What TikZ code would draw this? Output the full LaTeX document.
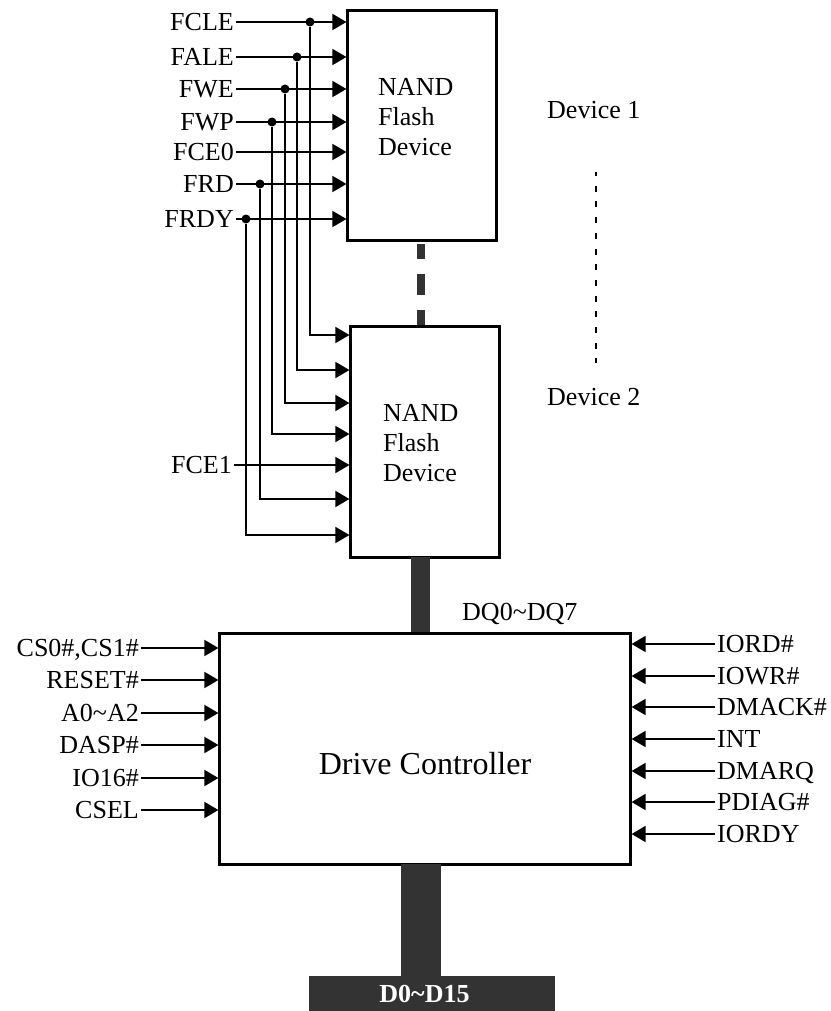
\documentclass[tikz,border=0pt]{standalone}
\usepackage{fontspec}
\setmainfont{Liberation Serif}
\usetikzlibrary{arrows.meta}
\definecolor{barcolor}{HTML}{333333}
\tikzset{
  box/.style={draw, line width=2.2pt, inner sep=0pt},
  sig/.style={font=\fontsize{26}{26}\selectfont, text height=17pt, text depth=0pt, inner sep=2pt},
  lbl/.style={font=\fontsize{26}{30}\selectfont, inner sep=0pt, align=left},
  wire/.style={line width=1.8pt, -{Triangle[length=14pt,width=16pt]}},
  tap/.style={circle, fill, inner sep=0pt, minimum size=9pt},
  bus/.style={draw=barcolor, line width=#1}
}
\begin{document}
\begin{tikzpicture}[x=1pt,y=-1pt]
\useasboundingbox (0,0) rectangle (830,1011);
% blocks
\node[box, minimum width=149pt, minimum height=230pt] (devone) at (422,125.5) {};
\node[box, minimum width=149pt, minimum height=231pt] (devtwo) at (425,442) {};
\node[box, minimum width=411pt, minimum height=231pt] (ctrl) at (425,749) {};
\node[lbl, anchor=west] (nandone) at (378,117) {NAND\\Flash\\Device};
\node[lbl, anchor=west] (nandtwo) at (383,443) {NAND\\Flash\\Device};
\node[font=\fontsize{32}{32}\selectfont] (ctrlname) at (425,764) {Drive Controller};
\node[sig, anchor=west] (nameone) at (545,110) {Device 1};
\node[sig, anchor=west] (nametwo) at (545,397) {Device 2};
\coordinate (dottop) at (596,172);
\coordinate (dotbot) at (596,363);
\draw[line width=2pt, dash pattern=on 6pt off 9.7pt, dash phase=2pt] (dottop) -- (dotbot);
% upper device inputs
\node[sig, anchor=east] (fcle) at (236,22) {FCLE};
\node[sig, anchor=east] (fale) at (236,57) {FALE};
\node[sig, anchor=east] (fwe) at (236,89) {FWE};
\node[sig, anchor=east] (fwp) at (236,122) {FWP};
\node[sig, anchor=east] (fcez) at (236,152) {FCE0};
\node[sig, anchor=east] (frd) at (236,184) {FRD};
\node[sig, anchor=east] (frdy) at (236,219) {FRDY};
\node[sig, anchor=east] (fceo) at (234,465) {FCE1};
\draw[wire] (fcle.east) -- (fcle.east -| devone.west);
\draw[wire] (fale.east) -- (fale.east -| devone.west);
\draw[wire] (fwe.east) -- (fwe.east -| devone.west);
\draw[wire] (fwp.east) -- (fwp.east -| devone.west);
\draw[wire] (fcez.east) -- (fcez.east -| devone.west);
\draw[wire] (frd.east) -- (frd.east -| devone.west);
\draw[wire] (frdy.east) -- (frdy.east -| devone.west);
\draw[wire] (fceo.east) -- (fceo.east -| devtwo.west);
% shared lines to the lower device
\node[tap] (tapcle) at (310,22) {};
\node[tap] (tapale) at (297,57) {};
\node[tap] (tapwe) at (285,89) {};
\node[tap] (tapwp) at (272,122) {};
\node[tap] (taprd) at (260,184) {};
\node[tap] (taprdy) at (246,219) {};
\coordinate (incle) at (devtwo.west |- 0,335);
\coordinate (inale) at (devtwo.west |- 0,370);
\coordinate (inwe) at (devtwo.west |- 0,403);
\coordinate (inwp) at (devtwo.west |- 0,434);
\coordinate (inrd) at (devtwo.west |- 0,499);
\coordinate (inrdy) at (devtwo.west |- 0,535);
\draw[wire] (tapcle) |- (incle);
\draw[wire] (tapale) |- (inale);
\draw[wire] (tapwe) |- (inwe);
\draw[wire] (tapwp) |- (inwp);
\draw[wire] (taprd) |- (inrd);
\draw[wire] (taprdy) |- (inrdy);
% controller inputs
\node[sig, anchor=east] (cs) at (141,648) {CS0\#,CS1\#};
\node[sig, anchor=east] (reset) at (141,680) {RESET\#};
\node[sig, anchor=east] (addr) at (141,713) {A0\textasciitilde A2};
\node[sig, anchor=east] (dasp) at (141,745) {DASP\#};
\node[sig, anchor=east] (iosix) at (141,778) {IO16\#};
\node[sig, anchor=east] (csel) at (141,810) {CSEL};
\draw[wire] (cs.east) -- (cs.east -| ctrl.west);
\draw[wire] (reset.east) -- (reset.east -| ctrl.west);
\draw[wire] (addr.east) -- (addr.east -| ctrl.west);
\draw[wire] (dasp.east) -- (dasp.east -| ctrl.west);
\draw[wire] (iosix.east) -- (iosix.east -| ctrl.west);
\draw[wire] (csel.east) -- (csel.east -| ctrl.west);
\node[sig, anchor=west] (iord) at (715,644) {IORD\#};
\node[sig, anchor=west] (iowr) at (715,676) {IOWR\#};
\node[sig, anchor=west] (dmack) at (715,707) {DMACK\#};
\node[sig, anchor=west] (int) at (715,739) {INT};
\node[sig, anchor=west] (dmarq) at (715,771) {DMARQ};
\node[sig, anchor=west] (pdiag) at (715,802) {PDIAG\#};
\node[sig, anchor=west] (iordy) at (715,834) {IORDY};
\draw[wire] (iord.west) -- (iord.west -| ctrl.east);
\draw[wire] (iowr.west) -- (iowr.west -| ctrl.east);
\draw[wire] (dmack.west) -- (dmack.west -| ctrl.east);
\draw[wire] (int.west) -- (int.west -| ctrl.east);
\draw[wire] (dmarq.west) -- (dmarq.west -| ctrl.east);
\draw[wire] (pdiag.west) -- (pdiag.west -| ctrl.east);
\draw[wire] (iordy.west) -- (iordy.west -| ctrl.east);
% buses
\coordinate (linktop) at (421,244);
\draw[bus=8pt, dash pattern=on 15pt off 15pt on 21pt off 15pt on 17pt off 1pt] (linktop) -- (linktop |- devtwo.north);
\coordinate (dqtop) at (420.5,557);
\draw[bus=19pt] (dqtop) -- (dqtop |- ctrl.north);
\node[sig, anchor=west] (dqname) at (460,612) {DQ0\textasciitilde DQ7};
\node[fill=barcolor, inner sep=0pt, minimum width=246pt, minimum height=35pt] (dbus) at (432,993.5) {};
\node[sig, text=white, font=\fontsize{26}{26}\selectfont\bfseries] (dname) at (424.5,994) {D0\textasciitilde D15};
\coordinate (dtop) at (421,864);
\draw[bus=40pt] (dtop) -- (dtop |- dbus.north);
\end{tikzpicture}
\end{document}
